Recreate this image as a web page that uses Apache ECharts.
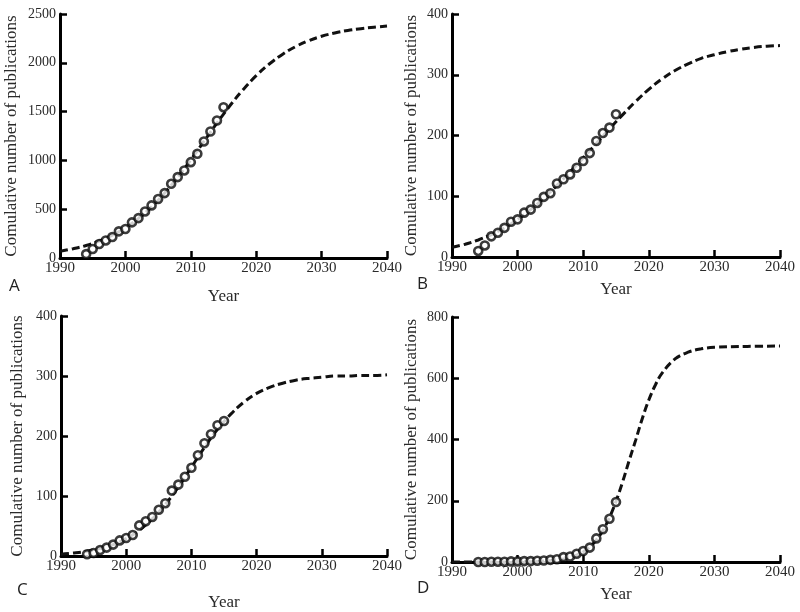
<!DOCTYPE html>
<html><head><meta charset="utf-8">
<script src="https://cdn.jsdelivr.net/npm/echarts@6/dist/echarts.min.js"></script>
<style>html,body{margin:0;padding:0;background:#fff}#c{width:800px;height:612px}</style>
</head><body><div id="c"></div>
<script>
// observed years
var pointYears = [1994,1995,1996,1997,1998,1999,2000,2001,2002,2003,2004,2005,2006,2007,2008,2009,2010,2011,2012,2013,2014,2015];
var pointsA = [40,92,143,180,215,273,297,365,409,477,539,604,665,760,829,897,982,1068,1194,1296,1409,1545];
var pointsB = [10,19,34,40,48,58,62,73,78,89,99,105,121,128,136,147,158,171,191,204,213,235];
var pointsC = [3,5,10,14,19,26,30,35,51,58,65,77,88,109,119,132,147,168,188,203,218,225];
var pointsD = [0,0,1,1,1,2,2,3,3,4,5,7,9,16,18,27,36,47,77,107,141,196];

// fitted curves
var curveYears = [1990,1992,1994,1996,1998,2000,2002,2004,2006,2008,2010,2012,2014,2016,2018,2020,2022,2024,2026,2028,2030,2032,2034,2036,2038,2040];
var curveA = [68,95,128,174,234,310,406,524,666,828,1006,1194,1382,1562,1725,1868,1988,2086,2165,2226,2272,2306,2332,2350,2364,2376];
var curveB = [16,21,28,37,48,62,78,97,118,140,163,187,211,234,256,276,293,307,318,327,333,338,342,345,347,348];
var curveC = [3,5,8,13,19,29,43,62,86,115,148,181,211,236,256,271,281,288,293,296,298,300,300,301,301,302];
var curveYearsD = [1990,1994,1998,2000,2002,2004,2006,2008,2010,2011,2012,2013,2014,2015,2016,2017,2018,2019,2020,2021,2022,2024,2026,2028,2030,2035,2040];
var curveD = [0,0,0,1,1,3,7,15,33,49,72,103,145,198,261,331,398,468,529,578,616,663,685,696,701,704,705];

var xTicks = [1990,2040,10];
var yMax = [2500,400,400,800];
var yStep = [500,100,100,200];
var panelLetters = ['A','B','C','D'];
var yTitle = 'Comulative number of publications';
var xTitle = 'Year';

function pairs(xs, ys){ return xs.map(function(x,i){return [x, ys[i]];}); }

var grids = [
  {left:60, top:14, width:327, height:244},
  {left:452, top:14, width:328, height:243},
  {left:61, top:316, width:326, height:242},
  {left:452, top:317, width:328, height:245}
];
var yNameGap = [40, 32, 35, 32];
var xNameGap = [30, 24, 38, 24];
var letterPos = [[4,273],[412,271],[12,577],[412,575]];

var serif = 'Liberation Serif';
var xAxes = [], yAxes = [], series = [], titles = [];
var curves = [[curveYears,curveA],[curveYears,curveB],[curveYears,curveC],[curveYearsD,curveD]];
var pts = [pointsA,pointsB,pointsC,pointsD];
function plain(v){ return String(v); }
for (var i=0;i<4;i++){
  xAxes.push({
    gridIndex:i, type:'value', min:xTicks[0], max:xTicks[1], interval:xTicks[2],
    name:xTitle, nameLocation:'middle', nameGap:xNameGap[i],
    nameTextStyle:{fontFamily:serif, fontSize:17, color:'#2a2a2a'},
    axisLine:{lineStyle:{color:'#000', width:3}},
    axisTick:{inside:true, length:7, lineStyle:{color:'#000', width:2.5}},
    axisLabel:{fontFamily:serif, fontSize:15, color:'#2a2a2a', margin:3, formatter:plain},
    splitLine:{show:false}
  });
  yAxes.push({
    gridIndex:i, type:'value', min:0, max:yMax[i], interval:yStep[i],
    name:yTitle, nameLocation:'middle', nameGap:yNameGap[i], nameRotate:90,
    nameTextStyle:{fontFamily:serif, fontSize:17, color:'#2a2a2a'},
    axisLine:{show:true, lineStyle:{color:'#000', width:3}},
    axisTick:{show:true, inside:true, length:7, lineStyle:{color:'#000', width:2.5}},
    axisLabel:{fontFamily:serif, fontSize:14, color:'#2a2a2a', margin:4, formatter:plain},
    splitLine:{show:false}
  });
  series.push({
    type:'line', xAxisIndex:i, yAxisIndex:i, data:pairs(curves[i][0], curves[i][1]),
    smooth:0.4, symbol:'none', silent:true,
    lineStyle:{color:'#111', width:3, type:[8,4]}, z:2
  });
  series.push({
    type:'scatter', xAxisIndex:i, yAxisIndex:i, data:pairs(pointYears, pts[i]),
    symbol:'circle', symbolSize:8,
    itemStyle:{color:'#fff', borderColor:'#0a0a0a', borderWidth:2.6}, z:3
  });
  titles.push({text:panelLetters[i], left:letterPos[i][0], top:letterPos[i][1],
    textStyle:{fontFamily:'Open Sans', fontSize:17, fontWeight:'normal', color:'#222'}});
}

var chart = echarts.init(document.getElementById('c'), null, {renderer:'canvas'});
chart.setOption({
  animation:false, backgroundColor:'#fff',
  title:titles, grid:grids, xAxis:xAxes, yAxis:yAxes, series:series
});
</script></body></html>
